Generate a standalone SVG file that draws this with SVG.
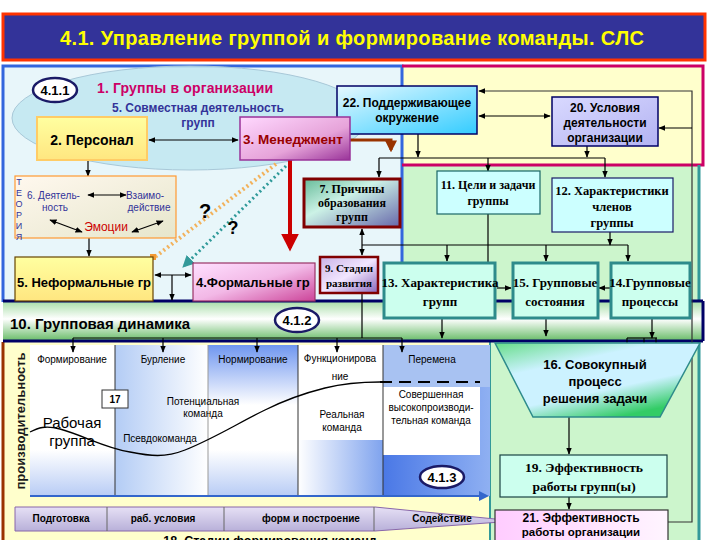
<svg xmlns="http://www.w3.org/2000/svg" width="720" height="540" viewBox="0 0 720 540">
<defs>
<style>
.s{font-family:"Liberation Sans",Arial,sans-serif}
.t{font-family:"Liberation Serif","Times New Roman",serif}
.b{font-weight:bold}
.ln{stroke:#000;stroke-width:1.2;fill:none}
.a{marker-end:url(#ah)}
.a2{marker-start:url(#ahs);marker-end:url(#ah)}
.mid{text-anchor:middle}
</style>
<marker id="ah" viewBox="0 0 10 10" refX="9" refY="5" markerWidth="6" markerHeight="6" orient="auto"><path d="M0,1 L10,5 L0,9 z" fill="#000"/></marker>
<marker id="ahs" viewBox="0 0 10 10" refX="1" refY="5" markerWidth="6" markerHeight="6" orient="auto"><path d="M10,1 L0,5 L10,9 z" fill="#000"/></marker>
<marker id="ahr" viewBox="0 0 10 10" refX="8" refY="5" markerWidth="4.5" markerHeight="4.5" orient="auto"><path d="M0,0 L10,5 L0,10 z" fill="#CC0000"/></marker>
<marker id="ahbr" viewBox="0 0 10 10" refX="8" refY="5" markerWidth="4" markerHeight="4" orient="auto"><path d="M0,0 L10,5 L0,10 z" fill="#993300"/></marker>
<marker id="aht" viewBox="0 0 10 10" refX="8" refY="5" markerWidth="4" markerHeight="4" orient="auto"><path d="M0,0 L10,5 L0,10 z" fill="#339999"/></marker>
<marker id="ahblue" viewBox="0 0 10 10" refX="8" refY="5" markerWidth="5" markerHeight="5" orient="auto"><path d="M0,0 L10,5 L0,10 z" fill="#3366CC"/></marker>
<linearGradient id="gYel" x1="0" y1="0" x2="0" y2="1"><stop offset="0" stop-color="#FFFFA0"/><stop offset="1" stop-color="#FFE680"/></linearGradient>
<linearGradient id="gMen" x1="0" y1="0" x2="1" y2="1"><stop offset="0" stop-color="#FFD9FF"/><stop offset="0.6" stop-color="#E6A3D9"/><stop offset="1" stop-color="#993399"/></linearGradient>
<linearGradient id="gForm" x1="0" y1="0" x2="1" y2="1"><stop offset="0" stop-color="#FFE0FF"/><stop offset="0.5" stop-color="#F2B8E6"/><stop offset="1" stop-color="#CC4499"/></linearGradient>
<linearGradient id="gCyan" x1="0" y1="0" x2="1" y2="1"><stop offset="0" stop-color="#E6F9FF"/><stop offset="1" stop-color="#33CCFF"/></linearGradient>
<linearGradient id="gLav" x1="0" y1="0" x2="1" y2="1"><stop offset="0" stop-color="#D9D9FF"/><stop offset="1" stop-color="#B3B3F2"/></linearGradient>
<linearGradient id="gCause" x1="0" y1="0" x2="1" y2="1"><stop offset="0" stop-color="#66BB99"/><stop offset="0.4" stop-color="#CCF2E6"/><stop offset="1" stop-color="#6666AA"/></linearGradient>
<linearGradient id="gStage" x1="0" y1="0" x2="1" y2="1"><stop offset="0" stop-color="#C9B3E6"/><stop offset="0.5" stop-color="#F2E6FF"/><stop offset="1" stop-color="#8866BB"/></linearGradient>
<linearGradient id="gTheo" x1="0" y1="0" x2="1" y2="1"><stop offset="0" stop-color="#FFF8EE"/><stop offset="1" stop-color="#E6E6CC"/></linearGradient>
<linearGradient id="gBand" x1="0" y1="0" x2="0" y2="1"><stop offset="0" stop-color="#A6DDA6"/><stop offset="0.45" stop-color="#FFFFFF"/><stop offset="1" stop-color="#66BB66"/></linearGradient>
<linearGradient id="gTrap" x1="0" y1="0" x2="0.6" y2="1"><stop offset="0" stop-color="#66DD88"/><stop offset="0.35" stop-color="#CCF2FF"/><stop offset="0.7" stop-color="#CCF2FF"/><stop offset="1" stop-color="#33CC66"/></linearGradient>
<linearGradient id="gPink" x1="0" y1="0" x2="1" y2="0"><stop offset="0" stop-color="#FFCCFF"/><stop offset="1" stop-color="#FFF5FF"/></linearGradient>
<linearGradient id="gPurp" x1="0" y1="0" x2="0" y2="1"><stop offset="0" stop-color="#E6E0F5"/><stop offset="1" stop-color="#B8B0D9"/></linearGradient>
<linearGradient id="gBlueDown" x1="0" y1="0" x2="0" y2="1"><stop offset="0" stop-color="#FFFFFF"/><stop offset="1" stop-color="#B8CCF5"/></linearGradient>
<linearGradient id="gBlueUp" x1="0" y1="0" x2="0" y2="1"><stop offset="0" stop-color="#6F96F0"/><stop offset="1" stop-color="#FFFFFF"/></linearGradient>
<linearGradient id="gBlueLeft" x1="0" y1="0" x2="1" y2="0"><stop offset="0" stop-color="#B3CCF5"/><stop offset="1" stop-color="#FFFFFF"/></linearGradient>
<linearGradient id="gBlueRight" x1="0" y1="0" x2="1" y2="0"><stop offset="0" stop-color="#FFFFFF"/><stop offset="1" stop-color="#7FA3EE"/></linearGradient>
<linearGradient id="gBlueDeep" x1="0" y1="0" x2="1" y2="0"><stop offset="0" stop-color="#4A78E6"/><stop offset="1" stop-color="#8FB0F2"/></linearGradient>
</defs>

<rect width="720" height="540" fill="#FFFFFF"/>

<!-- frames -->
<g id="frames">
<rect x="3" y="66" width="399" height="236" fill="#E8F6FA"/>
<rect x="402" y="66" width="301" height="99" fill="#FFFFCC"/>
<rect x="402" y="165" width="297" height="137" fill="#CCF5CC"/>
<rect x="490" y="342" width="209" height="198" fill="#CCF5CC"/>
<rect x="3" y="342" width="487" height="198" fill="#FFFFCC"/>
<path d="M3,302 V66 H402 V302" fill="none" stroke="#3366DD" stroke-width="3"/>
<path d="M402,66 H703 V165 H402" fill="none" stroke="#CC0066" stroke-width="3"/>
<path d="M699,165 V540" fill="none" stroke="#339999" stroke-width="3"/>
<path d="M490,342 V540" fill="none" stroke="#339999" stroke-width="2"/>
<path d="M3,342 V540" fill="none" stroke="#993300" stroke-width="3"/>
</g>

<!-- title -->
<g id="title">
<rect x="3" y="14" width="702" height="46" fill="#333399" stroke="#FF3300" stroke-width="3"/>
<text x="352" y="45" class="s b mid" font-size="20" fill="#FFFF00" textLength="584">4.1. Управление группой и формирование команды. СЛС</text>
</g>

<!-- ellipse groups in organization -->
<g id="n1">
<ellipse cx="190" cy="118" rx="178" ry="52" fill="#BFE6F0" fill-opacity="0.85" stroke="#A8C8D8" stroke-width="1"/>
<text x="97" y="93" class="s b" font-size="14" fill="#CC0066" textLength="176">1. Группы в организации</text>
<text x="198" y="112" class="s b mid" font-size="12" fill="#333399">5. Совместная деятельность</text>
<text x="198" y="127" class="s b mid" font-size="12" fill="#333399">групп</text>
</g>
<g id="lbl411">
<ellipse cx="55" cy="90" rx="22" ry="12" fill="#FFFFFF" stroke="#1A1A66" stroke-width="2.5"/>
<text x="55" y="95" class="s b mid" font-size="13">4.1.1</text>
</g>

<!-- chart -->
<g id="chart">
<rect x="30" y="345" width="85" height="151" fill="#FFFFFF"/>
<rect x="30" y="450" width="85" height="46" fill="url(#gBlueDown)"/>
<rect x="115" y="345" width="93" height="151" fill="url(#gBlueLeft)"/>
<rect x="208" y="345" width="90" height="151" fill="#FFFFFF"/>
<rect x="208" y="345" width="90" height="60" fill="url(#gBlueUp)"/>
<rect x="208" y="450" width="90" height="46" fill="url(#gBlueDown)"/>
<rect x="298" y="345" width="85" height="151" fill="#FFFFFF"/>
<rect x="298" y="440" width="85" height="56" fill="url(#gBlueRight)"/>
<rect x="383" y="345" width="107" height="151" fill="url(#gBlueDeep)"/>
<rect x="383" y="345" width="107" height="42" fill="#A8C2F2"/>
<rect x="383" y="387" width="97" height="68" fill="#FFFFFF"/>
<path d="M115,345 V496 M298,345 V496 M383,345 V496" stroke="#333" stroke-width="1"/>
<path d="M208,345 V496" stroke="#999" stroke-width="1"/>
<path d="M30,496 H487" stroke="#3366CC" stroke-width="2" marker-end="url(#ahblue)"/>
<path d="M30,432 C38,428 45,425 60,429 C85,436 105,448 130,452 C150,456 165,458 185,450 C215,438 240,422 265,410 C285,400 305,393 325,388 C345,383 360,382 380,382" fill="none" stroke="#000" stroke-width="1.3"/>
<path d="M380,382 H480" fill="none" stroke="#000" stroke-width="2" stroke-dasharray="12,7"/>
<g class="s" font-size="10" fill="#000">
<text x="72" y="363" class="mid">Формирование</text>
<text x="163" y="363" class="mid">Бурление</text>
<text x="253" y="363" class="mid">Нормирование</text>
<text x="340" y="362" class="mid">Функционирова</text>
<text x="340" y="380" class="mid">ние</text>
<text x="432" y="363" class="mid">Перемена</text>
<text x="203" y="405" class="mid">Потенциальная</text>
<text x="203" y="417" class="mid">команда</text>
<text x="160" y="442" class="mid">Псевдокоманда</text>
<text x="342" y="418" class="mid">Реальная</text>
<text x="342" y="431" class="mid">команда</text>
<text x="431" y="398" class="mid">Совершенная</text>
<text x="431" y="411" class="mid">высокопроизводи-</text>
<text x="431" y="424" class="mid">тельная команда</text>
</g>
<text x="72" y="428" class="s mid" font-size="15">Рабочая</text>
<text x="72" y="446" class="s mid" font-size="15">группа</text>
<text x="25" y="421" class="s b mid" font-size="13" transform="rotate(-90 25 421)" fill="#1A1A1A">производительность</text>
</g>
<g id="n17">
<rect x="102" y="390" width="26" height="18" fill="#FFFFFF" stroke="#333" stroke-width="1"/>
<text x="115" y="403" class="s b mid" font-size="10">17</text>
</g>
<g id="lbl413">
<ellipse cx="442" cy="477" rx="22" ry="11" fill="#FFFFFF" stroke="#1A1A66" stroke-width="2.5"/>
<text x="442" y="482" class="s b mid" font-size="13">4.1.3</text>
</g>

<!-- band 10 -->
<g id="n10">
<rect x="3" y="301" width="700" height="40" fill="url(#gBand)"/>
<path d="M3,301 H703 M3,341 H703 M703,301 V341" stroke="#000066" stroke-width="3" fill="none"/>
<text x="10" y="329" class="s b" font-size="15">10.  Групповая динамика</text>
</g>
<g id="lbl412">
<ellipse cx="297" cy="320" rx="22" ry="12" fill="#FFFFFF" stroke="#1A1A66" stroke-width="2.5"/>
<text x="297" y="325" class="s b mid" font-size="13">4.1.2</text>
</g>

<!-- connectors -->
<g id="connectors">
<path class="ln a2" d="M149,140 H238"/>
<path class="ln a" d="M88,160 V176"/>
<path class="ln a" d="M89,238 V256"/>
<path class="ln a2" d="M155,275 H191"/>
<path class="ln a" d="M172,275 V300"/>
<path d="M290,160 V248" stroke="#CC0000" stroke-width="4" fill="none" marker-end="url(#ahr)"/>
<path d="M276,164 L155,257" stroke="#F2B25C" stroke-width="4" stroke-dasharray="2,3" fill="none"/>
<rect x="150" y="254" width="6" height="6" fill="#F29933"/>
<path d="M286,166 L184,266" stroke="#2E9999" stroke-width="3" stroke-dasharray="2,3" fill="none" marker-end="url(#aht)"/>
<path d="M350,140 H391 V150" stroke="#993300" stroke-width="3" fill="none" marker-end="url(#ahbr)"/>
<path class="ln a2" d="M479,116 H550"/>
<path class="ln a" d="M418,134 V157"/>
<path class="ln a" d="M587,146 V157"/>
<path class="ln" d="M379,158 H605"/>
<path class="ln a" d="M379,158 V177"/>
<path class="ln a" d="M488,158 V171"/>
<path class="ln a" d="M605,158 V177"/>
<path d="M668,522 H692 V91 H479" stroke="#333" stroke-width="1.2" fill="none" marker-end="url(#ah)"/>
<path class="ln a" d="M692,128 H659"/>
<path class="ln a2" d="M362,229 V255"/>
<path class="ln" d="M362,245 H628"/>
<path class="ln a" d="M610,232 V245"/>
<path class="ln a" d="M447,245 V261"/>
<path class="ln a" d="M546,245 V261"/>
<path class="ln a" d="M628,245 V261"/>
<path class="ln" d="M488,214 V262"/>
<path class="ln" d="M362,293 V338"/>
<path class="ln" d="M73,338 H402"/>
<path class="ln a" d="M73,338 V352"/>
<path class="ln a" d="M163,338 V352"/>
<path class="ln a" d="M257,338 V352"/>
<path class="ln a" d="M337,338 V352"/>
<path class="ln a" d="M402,338 V352"/>
<path class="ln a" d="M497,288 H511"/>
<path class="ln a" d="M610,288 H599"/>
<path class="ln a" d="M442,318 V338"/>
<path class="ln a" d="M546,318 V336"/>
<path class="ln a" d="M652,318 V338"/>
<path class="ln" d="M627,338 H657"/>
<path class="ln a" d="M627,338 V353"/>
<path class="ln a" d="M644,338 V353"/>
<path class="ln a" d="M656,338 V353"/>
<path class="ln a" d="M569,417 V454"/>
<path class="ln a" d="M569,497 V509"/>
</g>

<!-- nodes -->
<g id="n22">
<rect x="337" y="86" width="140" height="48" fill="url(#gCyan)" stroke="#000066" stroke-width="1.5"/>
<text x="407" y="107" class="s b mid" font-size="12">22. Поддерживающее</text>
<text x="407" y="122" class="s b mid" font-size="12">окружение</text>
</g>
<g id="n2">
<rect x="37" y="117" width="110" height="43" fill="url(#gYel)" stroke="#FFCC66" stroke-width="2"/>
<text x="92" y="145" class="s b mid" font-size="14">2. Персонал</text>
</g>
<g id="n3">
<rect x="240" y="117" width="110" height="43" fill="url(#gMen)" stroke="#993399" stroke-width="1.5"/>
<text x="243" y="144" class="s b" font-size="13.5" fill="#990000">3. Менеджмент</text>
</g>
<g id="n20">
<rect x="552" y="97" width="106" height="49" fill="url(#gLav)" stroke="#000066" stroke-width="1.5"/>
<text x="605" y="112" class="s b mid" font-size="12">20. Условия</text>
<text x="605" y="127" class="s b mid" font-size="12">деятельности</text>
<text x="605" y="142" class="s b mid" font-size="12">организации</text>
</g>
<g id="n6">
<rect x="15" y="176" width="161" height="62" fill="url(#gTheo)" stroke="#FF9933" stroke-width="1.2"/>
<g class="s" font-size="9" fill="#333399">
<text x="19" y="185" class="mid">Т</text>
<text x="19" y="196" class="mid">Е</text>
<text x="19" y="207" class="mid">О</text>
<text x="19" y="218" class="mid">Р</text>
<text x="19" y="229" class="mid">И</text>
<text x="19" y="240" class="mid">Я</text>
</g>
<text x="27" y="199" class="s" font-size="10" fill="#333399">6. Деятель-</text>
<text x="55" y="211" class="s mid" font-size="10" fill="#333399">ность</text>
<text x="145" y="199" class="s mid" font-size="10" fill="#333399">Взаимо-</text>
<text x="149" y="211" class="s mid" font-size="10" fill="#333399">действие</text>
<text x="106" y="231" class="s mid" font-size="12" fill="#CC0000">Эмоции</text>
<path class="ln a2" d="M88,195 H126"/>
<path class="ln a2" d="M50,220 L82,232"/>
<path class="ln a2" d="M163,221 L132,232"/>
</g>
<g id="n7">
<rect x="304" y="179" width="96" height="48" fill="url(#gCause)" stroke="#800000" stroke-width="3"/>
<text x="352" y="193" class="t b mid" font-size="12">7. Причины</text>
<text x="352" y="207" class="t b mid" font-size="12">образования</text>
<text x="352" y="221" class="t b mid" font-size="12">групп</text>
</g>
<g id="n11">
<rect x="437" y="171" width="103" height="43" fill="#CCFFFF" stroke="#1A6666" stroke-width="1.2"/>
<text x="488" y="189" class="t b mid" font-size="12">11. Цели и задачи</text>
<text x="488" y="205" class="t b mid" font-size="12">группы</text>
</g>
<g id="n12">
<rect x="552" y="178" width="121" height="54" fill="#CCFFFF" stroke="#1A1A66" stroke-width="1.2"/>
<text x="612" y="195" class="t b mid" font-size="12.5">12. Характеристики</text>
<text x="612" y="211" class="t b mid" font-size="12.5">членов</text>
<text x="612" y="227" class="t b mid" font-size="12.5">группы</text>
</g>
<g id="n5">
<rect x="15" y="257" width="138" height="44" fill="url(#gYel)" stroke="#664400" stroke-width="1.2"/>
<text x="17" y="287" class="s b" font-size="13">5. Неформальные гр</text>
</g>
<g id="n4">
<rect x="193" y="263" width="122" height="38" fill="url(#gForm)" stroke="#993366" stroke-width="1.2"/>
<text x="196" y="287" class="s b" font-size="13">4.Формальные гр</text>
</g>
<g id="n9">
<rect x="320" y="257" width="58" height="36" fill="url(#gStage)" stroke="#800000" stroke-width="2.5"/>
<text x="349" y="272" class="t b mid" font-size="11">9. Стадии</text>
<text x="349" y="287" class="t b mid" font-size="11">развития</text>
</g>
<g id="n13">
<rect x="384" y="263" width="111" height="55" fill="#CCFFEE" stroke="#2E8B8B" stroke-width="3"/>
<text x="440" y="287" class="t b mid" font-size="13">13. Характеристика</text>
<text x="440" y="306" class="t b mid" font-size="13">групп</text>
</g>
<g id="n15">
<rect x="513" y="263" width="85" height="55" fill="#CCFFEE" stroke="#2E8B8B" stroke-width="3"/>
<text x="555" y="287" class="t b mid" font-size="13">15. Групповые</text>
<text x="555" y="306" class="t b mid" font-size="13">состояния</text>
</g>
<g id="n14">
<rect x="611" y="263" width="79" height="55" fill="#CCFFEE" stroke="#2E8B8B" stroke-width="3"/>
<text x="650" y="287" class="t b mid" font-size="13">14.Групповые</text>
<text x="650" y="306" class="t b mid" font-size="13">процессы</text>
</g>
<g id="n16">
<polygon points="495,343 700,343 660,417 533,417" fill="url(#gTrap)" stroke="#2E8B8B" stroke-width="1.5"/>
<text x="595" y="369" class="s b mid" font-size="13">16. Совокупный</text>
<text x="595" y="386" class="s b mid" font-size="13">процесс</text>
<text x="595" y="403" class="s b mid" font-size="13">решения задачи</text>
</g>
<g id="n19">
<rect x="500" y="455" width="167" height="42" fill="#CCFFEE" stroke="#1A4444" stroke-width="1.2"/>
<text x="584" y="472" class="t b mid" font-size="13.5">19. Эффективность</text>
<text x="584" y="491" class="t b mid" font-size="13.5">работы групп(ы)</text>
</g>
<g id="n18">
<polygon points="15,507 375,507 515,521 375,531 15,531" fill="url(#gPurp)" stroke="#8866AA" stroke-width="1"/>
<path d="M107,507 V531 M224,507 V531 M374,507 V531" stroke="#666" stroke-width="1"/>
<text x="61" y="522" class="s b mid" font-size="10">Подготовка</text>
<text x="163" y="522" class="s b mid" font-size="10">раб. условия</text>
<text x="311" y="522" class="s b mid" font-size="10">форм и построение</text>
<text x="442" y="522" class="s b mid" font-size="10">Содействие</text>
<text x="270" y="545" class="s b mid" font-size="12.5">18.  Стадии формирования команд</text>
</g>
<g id="n21">
<rect x="495" y="510" width="173" height="34" fill="url(#gPink)" stroke="#333" stroke-width="1.2"/>
<text x="581" y="522" class="s b mid" font-size="12">21. Эффективность</text>
<text x="581" y="536" class="s b mid" font-size="11.5">работы организации</text>
</g>
<g id="q">
<text x="205" y="218" class="s b mid" font-size="20">?</text>
<text x="233" y="234" class="s b mid" font-size="18">?</text>
</g>
</svg>
